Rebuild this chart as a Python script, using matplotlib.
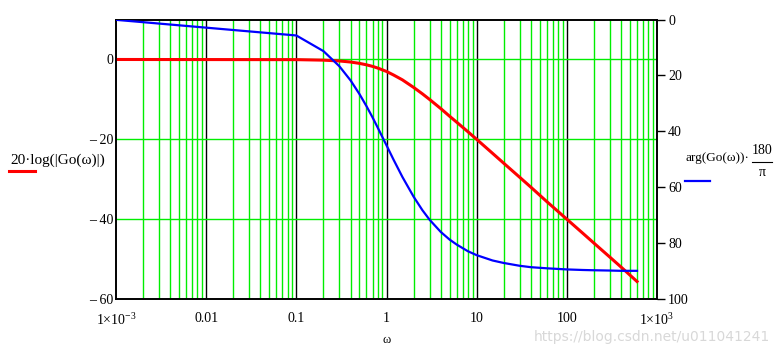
import matplotlib
matplotlib.use("Agg")
import matplotlib.pyplot as plt
from matplotlib.lines import Line2D

# frequency points (rad/s) and values
omega = [0.001, 0.1, 0.2, 0.3, 0.4, 0.5, 0.6, 0.7, 0.8, 1, 1.2, 1.5, 2, 2.5, 3,
         4, 5, 6, 8, 10, 15, 20, 30, 40, 60, 100, 150, 200, 300, 400, 600]
mag_db = [0, -0.04, -0.17, -0.37, -0.64, -0.97, -1.34, -1.73, -2.15, -3.0, -3.9,
          -5.1, -7.0, -8.6, -10.0, -12.3, -14.2, -15.7, -18.1, -20.0, -23.5,
          -26.0, -29.5, -32.0, -35.6, -40.0, -43.5, -46.0, -49.5, -52.0, -55.6]
phase_deg = [0.1, 5.7, 11.3, 16.7, 21.8, 26.6, 31.0, 35.0, 38.7, 45.0, 50.2,
             56.3, 63.4, 68.2, 71.6, 76.0, 78.7, 80.5, 82.9, 84.3, 86.2, 87.1,
             88.1, 88.6, 89.0, 89.4, 89.6, 89.7, 89.8, 89.9, 89.9]

x_ticks = [0.001, 0.01, 0.1, 1, 10, 100, 1000]
x_labels = [r"1$\times$10$^{-3}$", "0.01", "0.1", "1", "10", "100", r"1$\times$10$^{3}$"]
mag_ticks = [-60, -40, -20, 0]
mag_labels = ["\u2013 60", "\u2013 40", "\u2013 20", "0"]
phase_ticks = [0, 20, 40, 60, 80, 100]

plt.rcParams['font.family'] = ['Liberation Serif', 'DejaVu Serif']
plt.rcParams['mathtext.fontset'] = 'custom'
plt.rcParams['mathtext.rm'] = 'Liberation Serif'

fig = plt.figure(figsize=(7.79, 3.51), dpi=100)
ax = fig.add_axes([0.1489, 0.148, 0.6945, 0.7963])
ax.set_xscale('log')
ax.set_xlim(0.001, 1000)
ax.set_ylim(-60, 10)

# grid: green minor verticals, black decade lines, green horizontals
for dec in [0.001, 0.01, 0.1, 1, 10, 100]:
    for k in range(2, 10):
        ax.axvline(dec * k, color='#00ee00', lw=1, zorder=1)
for dec in x_ticks[1:-1]:
    ax.axvline(dec, color='black', lw=1, zorder=1)
for t in [-40, -20, 0]:
    ax.axhline(t, color='#00ee00', lw=1, zorder=1)

ax.plot(omega, mag_db, color='#ff0000', lw=2.2, zorder=3)

ax.set_xticks(x_ticks)
ax.set_xticklabels(x_labels)
ax.minorticks_off()
ax.set_yticks(mag_ticks)
ax.set_yticklabels(mag_labels)
ax.tick_params(axis='both', length=0, labelsize=10)
ax.tick_params(axis='x', pad=9)
ax.tick_params(axis='y', pad=2)
ax.set_xlabel("\u03c9", fontsize=9, labelpad=4)
for s in ax.spines.values():
    s.set_linewidth(1.2)

ax2 = ax.twinx()
ax2.set_ylim(100, 0)
ax2.set_yticks(phase_ticks)
ax2.tick_params(axis='y', length=6, width=1, labelsize=10, pad=2)
ax2.plot(omega, phase_deg, color='#0000ff', lw=1.6, zorder=4)
for s in ax2.spines.values():
    s.set_linewidth(1.2)

# axis labels with legend-like line samples
fig.text(10 / 779, 1 - 160 / 351, "20\u00b7log(|Go(\u03c9)|)", fontsize=11, va='center', ha='left')
fig.add_artist(Line2D([9 / 779, 35 / 779], [1 - 171 / 351] * 2, color='#ff0000', lw=2.2))

fig.text(685 / 779, 1 - 158 / 351, "arg(Go(\u03c9))\u00b7", fontsize=9.5, va='center', ha='left')
fig.text(762 / 779, 1 - 150 / 351, "180", fontsize=10, va='center', ha='center')
fig.add_artist(Line2D([752 / 779, 772 / 779], [1 - 162 / 351] * 2, color='black', lw=0.8))
fig.text(762 / 779, 1 - 172 / 351, "\u03c0", fontsize=10, va='center', ha='center')
fig.add_artist(Line2D([685 / 779, 710 / 779], [1 - 181 / 351] * 2, color='#0000ff', lw=1.6))

fig.text(770 / 779, 1 - 337 / 351, "https://blog.csdn.net/u011041241", fontsize=10,
         color='#d8d8d8', ha='right', va='center', family='DejaVu Sans')

fig.savefig("out.png", dpi=100)
